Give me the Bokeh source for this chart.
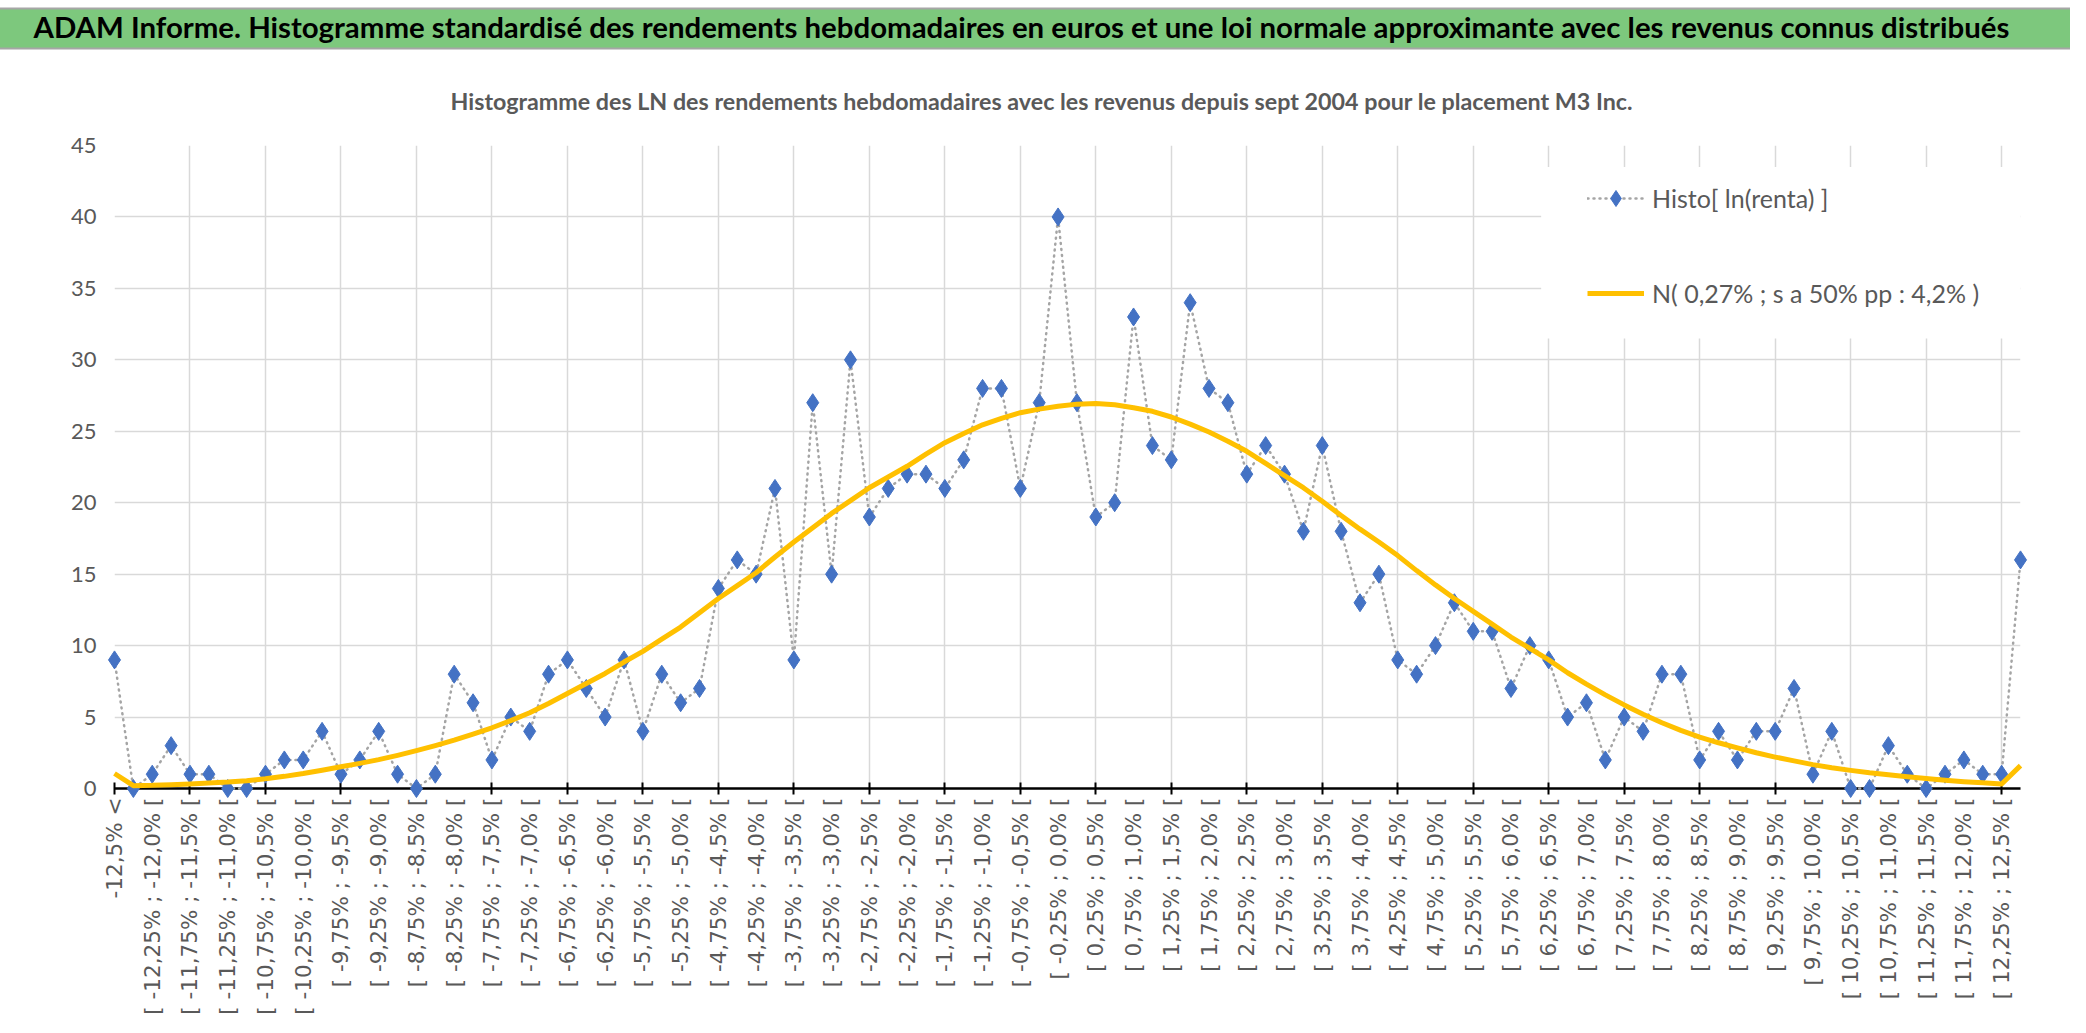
import math
from bokeh.plotting import figure
from bokeh.models import ColumnDataSource, FixedTicker, Legend, LegendItem, Range1d, Title, BoxAnnotation
from bokeh.embed import file_html
from bokeh.resources import INLINE

banner_text = ("ADAM Informe. Histogramme standardisé des rendements hebdomadaires en euros "
               "et une loi normale approximante avec les revenus connus distribués")
chart_title = ("Histogramme des LN des rendements hebdomadaires avec les revenus depuis sept 2004 "
               "pour le placement M3 Inc.")
series_histo_name = "Histo[ ln(renta) ]"
series_normal_name = "N( 0,27% ; s a 50% pp : 4,2% )"

categories = [
    "-12,5% <",
    "[ -12,5% ; -12,25% [", "[ -12,25% ; -12,0% [", "[ -12,0% ; -11,75% [", "[ -11,75% ; -11,5% [",
    "[ -11,5% ; -11,25% [", "[ -11,25% ; -11,0% [", "[ -11,0% ; -10,75% [", "[ -10,75% ; -10,5% [",
    "[ -10,5% ; -10,25% [", "[ -10,25% ; -10,0% [", "[ -10,0% ; -9,75% [", "[ -9,75% ; -9,5% [",
    "[ -9,5% ; -9,25% [", "[ -9,25% ; -9,0% [", "[ -9,0% ; -8,75% [", "[ -8,75% ; -8,5% [",
    "[ -8,5% ; -8,25% [", "[ -8,25% ; -8,0% [", "[ -8,0% ; -7,75% [", "[ -7,75% ; -7,5% [",
    "[ -7,5% ; -7,25% [", "[ -7,25% ; -7,0% [", "[ -7,0% ; -6,75% [", "[ -6,75% ; -6,5% [",
    "[ -6,5% ; -6,25% [", "[ -6,25% ; -6,0% [", "[ -6,0% ; -5,75% [", "[ -5,75% ; -5,5% [",
    "[ -5,5% ; -5,25% [", "[ -5,25% ; -5,0% [", "[ -5,0% ; -4,75% [", "[ -4,75% ; -4,5% [",
    "[ -4,5% ; -4,25% [", "[ -4,25% ; -4,0% [", "[ -4,0% ; -3,75% [", "[ -3,75% ; -3,5% [",
    "[ -3,5% ; -3,25% [", "[ -3,25% ; -3,0% [", "[ -3,0% ; -2,75% [", "[ -2,75% ; -2,5% [",
    "[ -2,5% ; -2,25% [", "[ -2,25% ; -2,0% [", "[ -2,0% ; -1,75% [", "[ -1,75% ; -1,5% [",
    "[ -1,5% ; -1,25% [", "[ -1,25% ; -1,0% [", "[ -1,0% ; -0,75% [", "[ -0,75% ; -0,5% [",
    "[ -0,5% ; -0,25% [", "[ -0,25% ; 0,0% [", "[ 0,0% ; 0,25% [", "[ 0,25% ; 0,5% [",
    "[ 0,5% ; 0,75% [", "[ 0,75% ; 1,0% [", "[ 1,0% ; 1,25% [", "[ 1,25% ; 1,5% [",
    "[ 1,5% ; 1,75% [", "[ 1,75% ; 2,0% [", "[ 2,0% ; 2,25% [", "[ 2,25% ; 2,5% [",
    "[ 2,5% ; 2,75% [", "[ 2,75% ; 3,0% [", "[ 3,0% ; 3,25% [", "[ 3,25% ; 3,5% [",
    "[ 3,5% ; 3,75% [", "[ 3,75% ; 4,0% [", "[ 4,0% ; 4,25% [", "[ 4,25% ; 4,5% [",
    "[ 4,5% ; 4,75% [", "[ 4,75% ; 5,0% [", "[ 5,0% ; 5,25% [", "[ 5,25% ; 5,5% [",
    "[ 5,5% ; 5,75% [", "[ 5,75% ; 6,0% [", "[ 6,0% ; 6,25% [", "[ 6,25% ; 6,5% [",
    "[ 6,5% ; 6,75% [", "[ 6,75% ; 7,0% [", "[ 7,0% ; 7,25% [", "[ 7,25% ; 7,5% [",
    "[ 7,5% ; 7,75% [", "[ 7,75% ; 8,0% [", "[ 8,0% ; 8,25% [", "[ 8,25% ; 8,5% [",
    "[ 8,5% ; 8,75% [", "[ 8,75% ; 9,0% [", "[ 9,0% ; 9,25% [", "[ 9,25% ; 9,5% [",
    "[ 9,5% ; 9,75% [", "[ 9,75% ; 10,0% [", "[ 10,0% ; 10,25% [", "[ 10,25% ; 10,5% [",
    "[ 10,5% ; 10,75% [", "[ 10,75% ; 11,0% [", "[ 11,0% ; 11,25% [", "[ 11,25% ; 11,5% [",
    "[ 11,5% ; 11,75% [", "[ 11,75% ; 12,0% [", "[ 12,0% ; 12,25% [", "[ 12,25% ; 12,5% [",
    "12,5% >",
]

histo_counts = [
    9, 0, 1, 3, 1, 1, 0, 0, 1, 2,
    2, 4, 1, 2, 4, 1, 0, 1, 8, 6,
    2, 5, 4, 8, 9, 7, 5, 9, 4, 8,
    6, 7, 14, 16, 15, 21, 9, 27, 15, 30,
    19, 21, 22, 22, 21, 23, 28, 28, 21, 27,
    40, 27, 19, 20, 33, 24, 23, 34, 28, 27,
    22, 24, 22, 18, 24, 18, 13, 15, 9, 8,
    10, 13, 11, 11, 7, 10, 9, 5, 6, 2,
    5, 4, 8, 8, 2, 4, 2, 4, 4, 7,
    1, 4, 0, 0, 3, 1, 0, 1, 2, 1,
    1, 16,
]

normal_curve = [
    1.05, 0.2, 0.22, 0.27, 0.32, 0.38, 0.45, 0.55, 0.68, 0.85,
    1.05, 1.28, 1.52, 1.76, 2.02, 2.32, 2.65, 3.0, 3.38, 3.8,
    4.25, 4.75, 5.3, 5.95, 6.65, 7.35, 8.05, 8.85, 9.6, 10.45,
    11.3, 12.3, 13.3, 14.2, 15.1, 16.2, 17.25, 18.25, 19.25, 20.15,
    21.05, 21.8, 22.55, 23.4, 24.2, 24.85, 25.45, 25.9, 26.3, 26.55,
    26.75, 26.9, 26.95, 26.85, 26.65, 26.4, 26.0, 25.5, 24.95, 24.3,
    23.6, 22.75, 21.9, 21.05, 20.1, 19.1, 18.15, 17.25, 16.3, 15.25,
    14.25, 13.3, 12.4, 11.5, 10.6, 9.8, 9.0, 8.1, 7.3, 6.55,
    5.85, 5.2, 4.6, 4.07, 3.6, 3.2, 2.84, 2.5, 2.2, 1.93,
    1.67, 1.45, 1.27, 1.1, 0.96, 0.83, 0.7, 0.58, 0.48, 0.4,
    0.32, 1.6,
]

y_ticks = [0, 5, 10, 15, 20, 25, 30, 35, 40, 45]

x_pos = list(range(len(categories)))
label_ticks = x_pos[::2]
grid_ticks = x_pos[::4]

src = ColumnDataSource(dict(x=x_pos, cat=categories, histo=histo_counts, normal=normal_curve))

p = figure(width=2070, height=1017, output_backend="svg", toolbar_location=None,
           x_range=Range1d(0, len(categories) - 1), y_range=Range1d(0, 45),
           min_border_left=114, min_border_right=50, min_border_bottom=223, min_border_top=0,
           background_fill_color="white", border_fill_color="white")
p.outline_line_color = None

# banner (outermost title)
p.title.text = banner_text
p.title.align = "left"
p.title.offset = -481
p.title.text_font = "Lato"
p.title.text_font_size = "29.4px"
p.title.text_font_style = "bold"
p.title.text_color = "black"
p.title.background_fill_color = "#7DC87D"
p.title.border_line_color = "#A6A6A6"
p.title.border_line_width = 2
p.title.padding = dict(left=400, right=400, top=0, bottom=5)
p.title.standoff = 12

# chart title (closest to the plot)
sub = Title(text=chart_title, align="left", offset=336, text_font="Lato",
            text_font_size="23.25px", text_font_style="bold", text_color="#595959",
            standoff=61)
p.add_layout(sub, "above")

# axes
xa = p.xaxis[0]
xa.ticker = FixedTicker(ticks=label_ticks, minor_ticks=grid_ticks)
xa.major_label_overrides = {i: categories[i] for i in label_ticks}
xa.major_label_orientation = math.pi / 2
xa.major_tick_line_color = None
xa.major_tick_in = 0
xa.major_tick_out = 0
xa.minor_tick_in = 6
xa.minor_tick_out = 6
xa.minor_tick_line_color = "black"
xa.minor_tick_line_width = 2
xa.axis_line_color = "black"
xa.axis_line_width = 2.5
xa.major_label_standoff = 3
xa.major_label_text_font = "DejaVu Sans"
xa.major_label_text_font_size = "21.5px"
xa.major_label_text_color = "#595959"

ya = p.yaxis[0]
ya.ticker = FixedTicker(ticks=y_ticks)
ya.axis_line_color = None
ya.major_tick_line_color = None
ya.minor_tick_line_color = None
ya.major_tick_out = 0
ya.major_label_standoff = 18
ya.major_label_text_font = "Lato"
ya.major_label_text_font_size = "22px"
ya.major_label_text_color = "#595959"

p.xgrid.ticker = FixedTicker(ticks=grid_ticks)
p.xgrid.grid_line_color = "#D9D9D9"
p.xgrid.grid_line_width = 1.5
p.ygrid.ticker = FixedTicker(ticks=y_ticks)
p.ygrid.grid_line_color = "#D9D9D9"
p.ygrid.grid_line_width = 1.5

# white backdrop of the legend area (hides the grid there, as in the reference)
legend_backdrop = BoxAnnotation(left=75.6, right=101, bottom=31.5, top=43.5,
                                fill_color="white", fill_alpha=1.0, line_color=None)
p.add_layout(legend_backdrop)

# series
dots = p.line("x", "histo", source=src, line_color="#A5A5A5", line_width=2.5,
              line_dash="1 5", line_cap="round", level="overlay")
marks = p.scatter("x", "histo", source=src, marker="diamond", size=18,
                  fill_color="#4472C4", line_color="#4472C4", level="overlay")
curve = p.line("x", "normal", source=src, line_color="#FFC000", line_width=5,
               line_join="round", level="overlay")

legend = Legend(items=[LegendItem(label=series_histo_name, renderers=[dots, marks]),
                       LegendItem(label=series_normal_name, renderers=[curve])],
                location=(1473, 475), margin=0, padding=0, spacing=55,
                glyph_width=57, glyph_height=40, label_standoff=8,
                label_text_font="Lato", label_text_font_size="25px",
                label_text_color="#595959", background_fill_color="white",
                background_fill_alpha=1.0, border_line_color=None)
p.add_layout(legend)

open("out.html", "w").write(file_html(p, INLINE))
